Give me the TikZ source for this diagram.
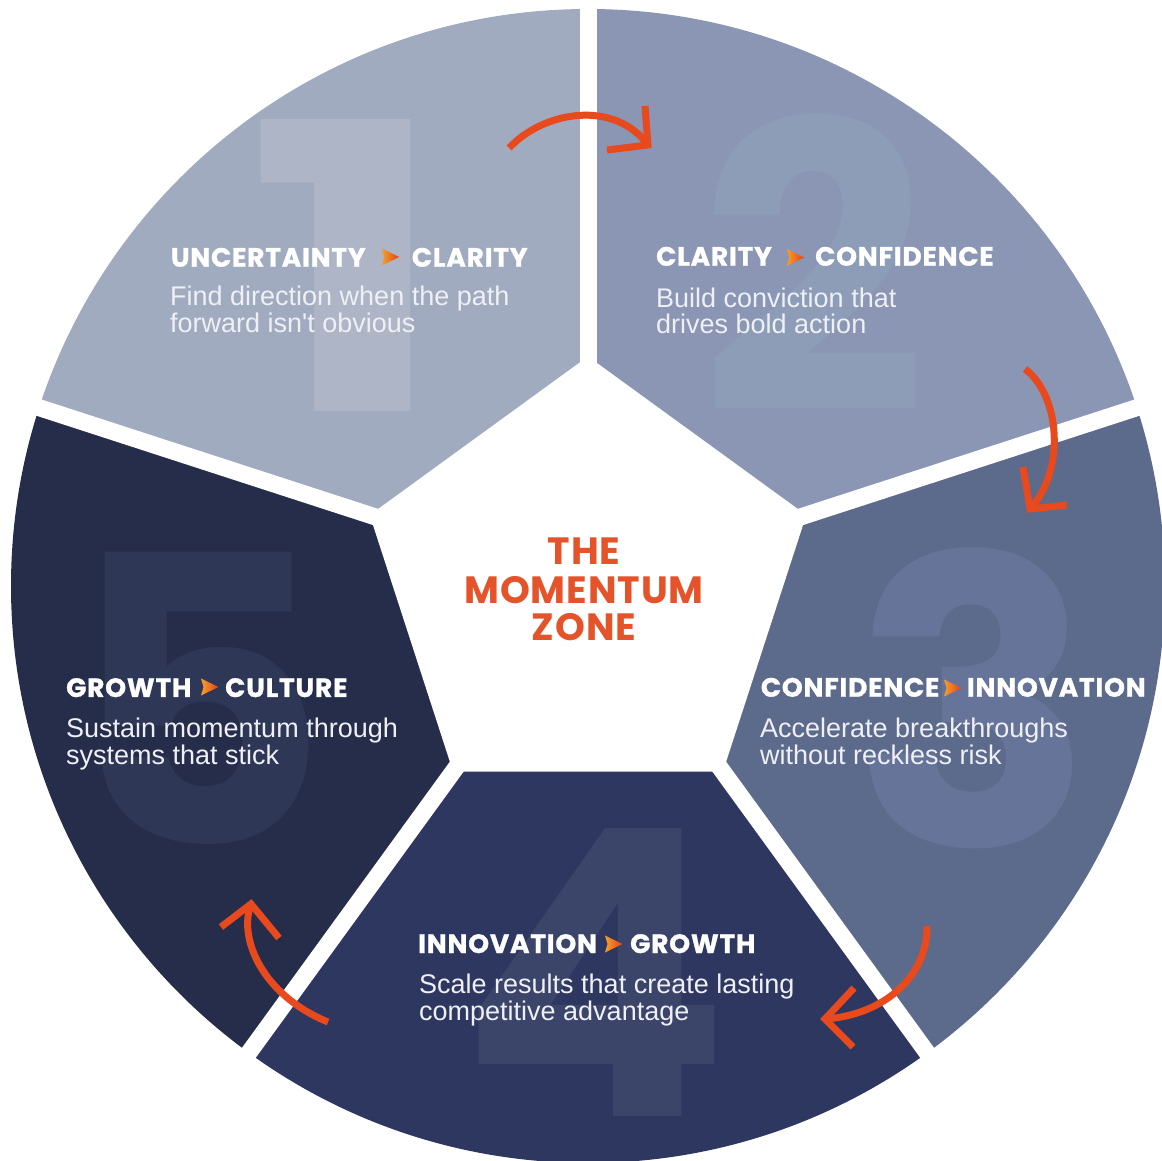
\documentclass[tikz,border=0pt]{standalone}
\usepackage{fontspec}
\setmainfont{Liberation Sans}[Ligatures=TeXOff]
\newfontfamily\popfont{Poppins}
\newfontfamily\hdrfont{Poppins}[LetterSpace=3,FakeBold=1]
\newfontfamily\ttlfont{Poppins}[LetterSpace=2.5]
\usetikzlibrary{calc}
\definecolor{segA}{HTML}{A1ABBF}
\definecolor{segB}{HTML}{8B95B4}
\definecolor{segC}{HTML}{5C6A8C}
\definecolor{segD}{HTML}{2E3760}
\definecolor{segE}{HTML}{252D4A}
\definecolor{numA}{HTML}{ADB5C6}
\definecolor{numB}{HTML}{8D9DB8}
\definecolor{numC}{HTML}{66749A}
\definecolor{numD}{HTML}{3B4469}
\definecolor{numE}{HTML}{2F3756}
\definecolor{accent}{HTML}{E8491D}
\definecolor{titlec}{HTML}{E4532A}
\definecolor{triL}{HTML}{F5A02A}
\definecolor{triR}{HTML}{E4401C}
\definecolor{bodytext}{HTML}{EEF0F5}
\newcommand{\hdrtri}[2]{\shade[tri] (#1,#2) ++(0,8.5) -- ++(17.5,-8.5) -- ++(-17.5,-8.5) -- ++(2.5,8.5) -- cycle;}
\begin{document}
\begin{tikzpicture}[x=1pt,y=1pt,
  hdr/.style={inner sep=0pt, anchor=base west, text=white, font=\hdrfont\bfseries\fontsize{26.5}{26.5}\selectfont},
  body/.style={inner sep=0pt, anchor=base west, text=bodytext, font=\fontsize{27}{27}\selectfont},
  bignum/.style={inner sep=0pt, font=\popfont\bfseries\fontsize{400}{400}\selectfont},
  title/.style={inner sep=0pt, anchor=base, text=titlec, font=\ttlfont\bfseries\fontsize{38}{38}\selectfont},
  flow/.style={draw=accent, line width=7pt, line cap=butt, line join=miter},
  tri/.style={left color=triL, right color=triR},
  gap/.style={draw=white, line width=17pt}
]
\useasboundingbox (0,0) rectangle (1162,1160);
\fill[white] (0,0) rectangle (1162,1160);
% segments
\begin{scope}[shift={(588,574)}]
  \clip (0,0) circle (577);
  \fill[segA] (0,0) -- (90:900) -- (162:900) -- cycle;
  \fill[segB] (0,0) -- (18:900) -- (90:900) -- cycle;
  \fill[segC] (0,0) -- (-54:900) -- (18:900) -- cycle;
  \fill[segD] (0,0) -- (-126:900) -- (-54:900) -- cycle;
  \fill[segE] (0,0) -- (162:900) -- (234:900) -- cycle;
\end{scope}
% big faint numbers
\node[bignum, text=numA] (n1) at (348,894) {\scalebox{1.35}[1]{1}};
\node[bignum, text=numB] (n2) at (814,897) {2};
\node[bignum, text=numC] (n3) at (973,462) {3};
\node[bignum, text=numD] (n4) at (595,188) {4};
\node[bignum, text=numE] (n5) at (198,462) {5};
% gaps and centre
\begin{scope}[shift={(588,574)}]
  \foreach \a in {90,18,-54,-126,162} \draw[gap] (0,0) -- (\a:640);
  \filldraw[gap, fill=white, line join=miter] (90:219) -- (18:219) -- (-54:219) -- (-126:219) -- (162:219) -- cycle;
\end{scope}
% title
\node[title] (t1) at (584,595) {THE};
\node[title] (t2) at (584,556.7) {MOMENTUM};
\node[title] (t3) at (584,519.3) {ZONE};
% segment 1
\node[hdr] (h1a) at (170.7,893.3) {UNCERTAINTY};
\hdrtri{381.7}{903}
\node[hdr] (h1b) at (411.7,893.3) {CLARITY};
\node[body] (b1a) at (170,854) {Find direction when the path};
\node[body] (b1b) at (170,827) {forward isn't obvious};
% segment 2
\node[hdr] (h2a) at (656,894.3) {CLARITY};
\hdrtri{786.7}{902.5}
\node[hdr] (h2b) at (815,894.3) {CONFIDENCE};
\node[body] (b2a) at (656,852.7) {Build conviction that};
\node[body] (b2b) at (656,826.7) {drives bold action};
% segment 3
\node[hdr] (h3a) at (760.7,463.3) {CONFIDENCE};
\hdrtri{944}{472}
\node[hdr] (h3b) at (966.7,463.3) {INNOVATION};
\node[body] (b3a) at (760,422) {Accelerate breakthroughs};
\node[body] (b3b) at (760,395) {without reckless risk};
% segment 4
\node[hdr] (h4a) at (418,207) {INNOVATION};
\hdrtri{605}{216}
\node[hdr] (h4b) at (630,207) {GROWTH};
\node[body] (b4a) at (419,167) {Scale results that create lasting};
\node[body] (b4b) at (419,140) {competitive advantage};
% segment 5
\node[hdr] (h5a) at (66,463) {GROWTH};
\hdrtri{201}{473}
\node[hdr] (h5b) at (225,463) {CULTURE};
\node[body] (b5a) at (66,422) {Sustain momentum through};
\node[body] (b5b) at (66,395) {systems that stick};
% flow arrows
\coordinate (s1) at (509,1012); \coordinate (e1) at (648,1015);
\coordinate (a1) at (645,1054); \coordinate (c1) at (607,1010);
\draw[flow] (s1) .. controls (545,1050) and (615,1060) .. (e1);
\draw[flow] (a1) -- (e1) -- (c1);
\coordinate (s2) at (1025,791); \coordinate (e2) at (1030,651);
\coordinate (a2) at (1023,693); \coordinate (c2) at (1067,655);
\draw[flow] (s2) .. controls (1060,765) and (1066,690) .. (e2);
\draw[flow] (a2) -- (e2) -- (c2);
\coordinate (s3) at (927,234); \coordinate (e3) at (825,141);
\coordinate (a3) at (854,172); \coordinate (c3) at (853,113);
\draw[flow] (s3) .. controls (928,185) and (885,145) .. (e3);
\draw[flow] (a3) -- (e3) -- (c3);
\coordinate (s4) at (328,138); \coordinate (e4) at (251,256);
\coordinate (a4) at (221,233); \coordinate (c4) at (279,222);
\draw[flow] (s4) .. controls (262,165) and (238,222) .. (e4);
\draw[flow] (a4) -- (e4) -- (c4);
\end{tikzpicture}
\end{document}
